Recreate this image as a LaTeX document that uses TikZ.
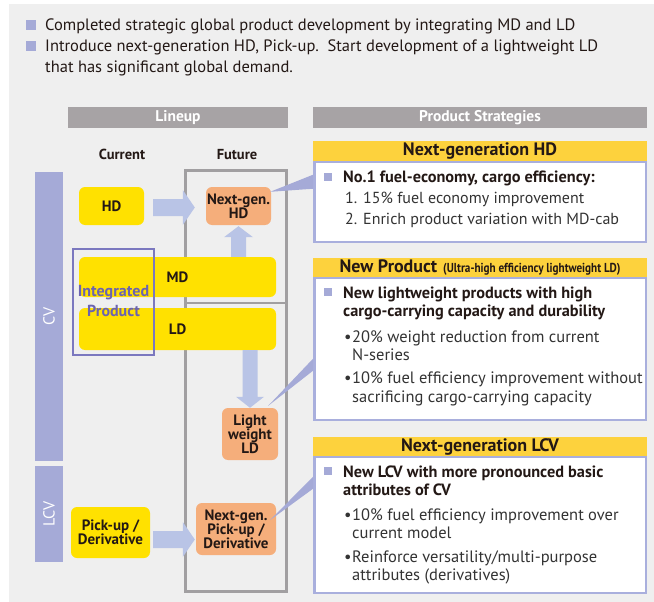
\documentclass[tikz,border=0pt]{standalone}
\usepackage{fontspec}
\setmainfont{PT Sans}
\newfontfamily\condfont[FakeStretch=0.86]{PT Sans}
\usetikzlibrary{calc}
\definecolor{bgc}{HTML}{EFEFEF}
\definecolor{barc}{HTML}{A7A3A5}
\definecolor{lavc}{HTML}{A5AAD7}
\definecolor{yelc}{HTML}{FFE100}
\definecolor{orac}{HTML}{F5AE7B}
\definecolor{arrc}{HTML}{B9C4E6}
\definecolor{purc}{HTML}{7B78BF}
\definecolor{purt}{HTML}{6B63B0}
\definecolor{fgc}{HTML}{A19FA1}
\definecolor{hdrc}{HTML}{FDD23D}
\definecolor{pbc}{HTML}{A9AFDD}
\definecolor{tc}{HTML}{231815}
\definecolor{bodyc}{HTML}{333333}
\newcommand\fs[1]{\fontsize{#1}{#1}\selectfont}
\newcommand\rarr[2]{\fill[arrc] ($(#1)+(0,-8.5)$) -- ($(#2)+(-12,-8.5)$) -- ($(#2)+(-12,-17.5)$) -- (#2) -- ($(#2)+(-12,17.5)$) -- ($(#2)+(-12,8.5)$) -- ($(#1)+(0,8.5)$) -- cycle;}
\newcommand\uarr[2]{\fill[arrc] ($(#1)+(-7.5,0)$) -- ($(#2)+(-7.5,11)$) -- ($(#2)+(-14.5,11)$) -- (#2) -- ($(#2)+(14.5,11)$) -- ($(#2)+(7.5,11)$) -- ($(#1)+(7.5,0)$) -- cycle;}
\newcommand\darr[2]{\fill[arrc] ($(#1)+(-7.5,0)$) -- ($(#2)+(-7.5,-11)$) -- ($(#2)+(-14,-11)$) -- (#2) -- ($(#2)+(14,-11)$) -- ($(#2)+(7.5,-11)$) -- ($(#1)+(7.5,0)$) -- cycle;}
\newcommand\callw[3]{\fill[lavc] (#1) -- (#2) -- (#3) -- cycle;}
\begin{document}
\begin{tikzpicture}[x=1pt,y=-1pt,
  bar/.style={fill=barc, text=white, font=\bfseries\fs{15.5}, inner sep=0pt},
  side/.style={fill=lavc, text=white, font=\fs{16}, inner sep=0pt, rotate=90},
  ybox/.style={fill=yelc, rounded corners=6pt, align=center, inner sep=0pt, text=tc,
    font=\bfseries\fs{15}},
  obox/.style={ybox, fill=orac},
  colhead/.style={anchor=base, inner sep=0pt, text=tc, font=\bfseries\fs{14.5}},
  phead/.style={fill=hdrc, text=tc, inner sep=0pt, font=\bfseries\fs{18}},
  pbody/.style={draw=pbc, line width=2.5pt, fill=white, inner sep=0pt},
  sq/.style={fill=lavc, minimum size=8pt, inner sep=0pt},
  ln/.style={anchor=base west, inner sep=0pt, text=bodyc, font=\fs{16.5}},
  lnone/.style={ln, font=\fs{16}},
  bl/.style={anchor=base west, inner sep=0pt, text=tc, font=\bfseries\fs{16.3}},
  top/.style={anchor=base west, inner sep=0pt, text=tc, font=\fs{16.5}}]
\useasboundingbox (0,0) rectangle (654,602);
\fill[white] (0,0) rectangle (654,602);
\fill[bgc] (9,4) rectangle (654,602);
% top bullets
\node[sq, minimum size=10pt] (tq1) at (31,25.5) {};
\node[top] (tt1) at (45,31) {Completed strategic global product development by integrating MD and LD};
\node[sq, minimum size=10pt] (tq2) at (31,46.5) {};
\node[top] (tt2) at (45,52) {Introduce next-generation HD, Pick-up.\ \ Start development of a lightweight LD};
\node[top] (tt3) at (45,73) {that has significant global demand.};
% header bars
\node[bar, minimum width=220pt, minimum height=21pt] (lineup) at (178,117.5) {Lineup};
\node[bar, minimum width=334pt, minimum height=21pt] (ps) at (480,117.5) {Product Strategies};
\node[colhead] (cur) at (122,160) {Current};
\node[colhead] (fu) at (237,160) {Future};
% side bars
\node[side, minimum width=289pt, minimum height=28pt] (cv) at (49,316.5) {CV};
\node[side, minimum width=96pt, minimum height=28pt] (lcv) at (49,514) {LCV};
% future frame
\node[draw=fgc, line width=2.6pt, minimum width=101pt, minimum height=421pt, inner sep=0pt] (fut) at (236,381) {};
\coordinate (dv) at (0,303);
\draw[fgc, line width=2.6pt] (fut.west |- dv) -- (fut.east |- dv);
% boxes
\node[ybox, minimum width=65pt, minimum height=38pt] (hd) at (111.5,206) {HD};
\node[obox, minimum width=65pt, minimum height=38pt] (ngh) at (238.5,206) {Next-gen.\\[-1pt]HD};
\node[ybox, minimum width=197pt, minimum height=40pt] (md) at (177.5,277) {MD};
\node[ybox, minimum width=197pt, minimum height=42pt] (ld) at (177.5,329) {LD};
\node[obox, minimum width=56pt, minimum height=52pt] (lw) at (250,434) {Light\\[-1pt]weight\\[-1pt]LD};
\node[ybox, minimum width=79pt, minimum height=51pt] (pu) at (110.5,532.5) {Pick-up /\\[-1pt]Derivative};
\node[obox, minimum width=80pt, minimum height=52pt] (npu) at (236,529) {Next-gen.\\[-1pt]Pick-up /\\[-1pt]Derivative};
% integrated
\node[draw=purc, line width=1.8pt, minimum width=81pt, minimum height=106pt, inner sep=0pt] (intg) at (113.5,302) {};
\node[align=center, inner sep=0pt, text=purt, font=\bfseries\fs{16}] (intt) at (113.5,301.5) {Integrated\\[4pt]Product};
% arrows
\coordinate (a1s) at ([xshift=9pt,yshift=-1.5pt]hd.east);
\coordinate (a1t) at ($(a1s -| ngh.west)+(-11,0)$);
\rarr{a1s}{a1t}
\coordinate (a2s) at (ngh.south |- md.north);
\coordinate (a2t) at ([yshift=-1pt]ngh.south);
\uarr{a2s}{a2t}
\coordinate (a3s) at (lw.north |- ld.south);
\coordinate (a3t) at (lw.north);
\darr{a3s}{a3t}
\coordinate (a4s) at ([xshift=3pt,yshift=-7pt]pu.east);
\coordinate (a4t) at ($(a4s -| npu.west)+(-1,0)$);
\rarr{a4s}{a4t}
% panels
\node[phead, minimum width=334pt, minimum height=21pt] (h1) at (480,151.5) {Next-generation HD};
\node[pbody, minimum width=331.5pt, minimum height=80pt] (b1) at (480,202) {};
\node[phead, minimum width=334pt, minimum height=20pt] (h2) at (480,268) {New Product\hspace{6pt}{\condfont\fs{13}(Ultra-high efficiency lightweight LD)}};
\node[pbody, minimum width=331.5pt, minimum height=142pt] (b2) at (480,349) {};
\node[phead, minimum width=334pt, minimum height=20pt] (h3) at (480,447) {Next-generation LCV};
\node[pbody, minimum width=331.5pt, minimum height=136pt] (b3) at (480,525) {};
% callouts
\callw{$(ngh.north east)+(-1,5)$}{$(b1.north west)+(0,14)$}{$(b1.north west)+(0,28)$}
\callw{$(lw.north east)+(-10,-2)$}{$(b2.north west)+(0,82)$}{$(b2.north west)+(0,94)$}
\callw{$(npu.east)+(-6,-9)$}{$(b3.north west)+(0,21)$}{$(b3.north west)+(0,33)$}
% panel 1 text
\node[sq] (q1) at (328,177) {};
\node[bl] (p1a) at (343,182) {No.1 fuel-economy, cargo efficiency:};
\node[lnone] (p1n1) at (345,203) {1.};
\node[lnone] (p1b) at (363,203) {15\% fuel economy improvement};
\node[lnone] (p1n2) at (345,224) {2.};
\node[lnone] (p1c) at (363,224) {Enrich product variation with MD-cab};
% panel 2 text
\node[sq] (q2) at (328,292) {};
\node[bl] (p2a) at (343,298) {New lightweight products with high};
\node[bl] (p2b) at (343,316) {cargo-carrying capacity and durability};
\node[ln] (p2d1) at (344,342) {•};
\node[ln] (p2c) at (352,342) {20\% weight reduction from current};
\node[ln] (p2d) at (352,360) {N-series};
\node[ln] (p2d2) at (344,383) {•};
\node[ln] (p2e) at (352,383) {10\% fuel efficiency improvement without};
\node[ln] (p2f) at (352,402) {sacrificing cargo-carrying capacity};
% panel 3 text
\node[sq] (q3) at (328,471) {};
\node[bl] (p3a) at (343,477) {New LCV with more pronounced basic};
\node[bl] (p3b) at (343,495) {attributes of CV};
\node[ln] (p3d1) at (344,520) {•};
\node[ln] (p3c) at (352,520) {10\% fuel efficiency improvement over};
\node[ln] (p3d) at (352,538) {current model};
\node[ln] (p3d2) at (344,562) {•};
\node[ln] (p3e) at (352,562) {Reinforce versatility/multi-purpose};
\node[ln] (p3f) at (352,580) {attributes (derivatives)};
\end{tikzpicture}
\end{document}
